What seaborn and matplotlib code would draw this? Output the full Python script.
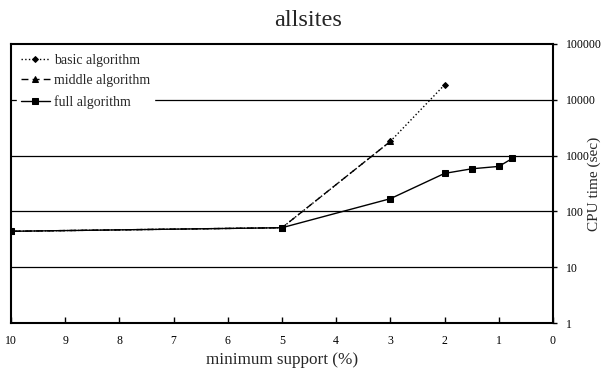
import matplotlib
matplotlib.use("Agg")
import matplotlib.pyplot as plt
import seaborn as sns
import pandas as pd
from matplotlib.ticker import FixedLocator, NullLocator

basic_x = [10, 5, 3, 2]
basic_y = [44, 51, 1800, 18600]
middle_x = [10, 5, 3]
middle_y = [44, 51, 1800]
full_x = [10, 5, 3, 2, 1.5, 1, 0.75]
full_y = [44, 51, 169, 480, 580, 640, 890]
x_ticks = [10, 9, 8, 7, 6, 5, 4, 3, 2, 1, 0]
y_ticks = [1, 10, 100, 1000, 10000, 100000]
y_tick_labels = ["1", "10", "100", "1000", "10000", "100000"]

sns.set_style("white")
plt.rcParams['font.family'] = ['Liberation Serif', 'DejaVu Serif']

fig = plt.figure(figsize=(6.05, 3.68), dpi=100)
ax = fig.add_axes([11/605, 1 - 323/368, (553 - 11)/605, (323 - 44)/368])

series = [
    ("basic algorithm", basic_x, basic_y, ":", "D", 3),
    ("middle algorithm", middle_x, middle_y, (0, (5, 3)), "^", 4),
    ("full algorithm", full_x, full_y, "-", "s", 5),
]
for name, xs, ys, ls, mk, ms in series:
    df = pd.DataFrame({"x": xs, "y": ys})
    sns.lineplot(data=df, x="x", y="y", ax=ax, color="black", linestyle=ls,
                 marker=mk, markersize=ms, markeredgecolor="black",
                 linewidth=1, label=name, zorder=3)

ax.set_yscale("log")
ax.set_ylim(1, 100000)
ax.set_xlim(10, 0)
ax.xaxis.set_major_locator(FixedLocator(x_ticks))
ax.set_xticklabels([str(t) for t in x_ticks])
ax.yaxis.set_major_locator(FixedLocator(y_ticks))
ax.yaxis.set_minor_locator(NullLocator())
ax.set_yticklabels(y_tick_labels)
ax.yaxis.tick_right()
ax.yaxis.set_label_position("right")

for yv in y_ticks[1:-1]:
    ax.axhline(yv, color="black", linewidth=0.9, zorder=1)

for s in ax.spines.values():
    s.set_color("black")
    s.set_linewidth(1.5)

ax.tick_params(axis="x", direction="in", length=4, width=1, colors="black",
               labelsize=8.5, pad=9, bottom=True)
ax.tick_params(axis="y", direction="out", length=3, width=1, colors="black",
               labelsize=8.5, right=True, left=False, pad=6)

ax.set_xlabel("minimum support (%)", fontsize=12.3, labelpad=3)
ax.set_ylabel("CPU time (sec)", fontsize=11)
ax.yaxis.set_label_coords((588 - 11) / 542, 0.5)
fig.text(308/605, 1 - 21/368, "allsites", fontsize=17.5, ha="center", va="center")

leg = ax.legend(loc="upper left", frameon=True, fontsize=10, handlelength=2.1,
                handletextpad=0.3, labelspacing=0.55, borderaxespad=0.4,
                borderpad=0.3)
leg.get_frame().set_edgecolor("white")
leg.get_frame().set_facecolor("white")
leg.get_frame().set_alpha(1)
leg.set_zorder(5)

fig.savefig("out.png", dpi=100)
